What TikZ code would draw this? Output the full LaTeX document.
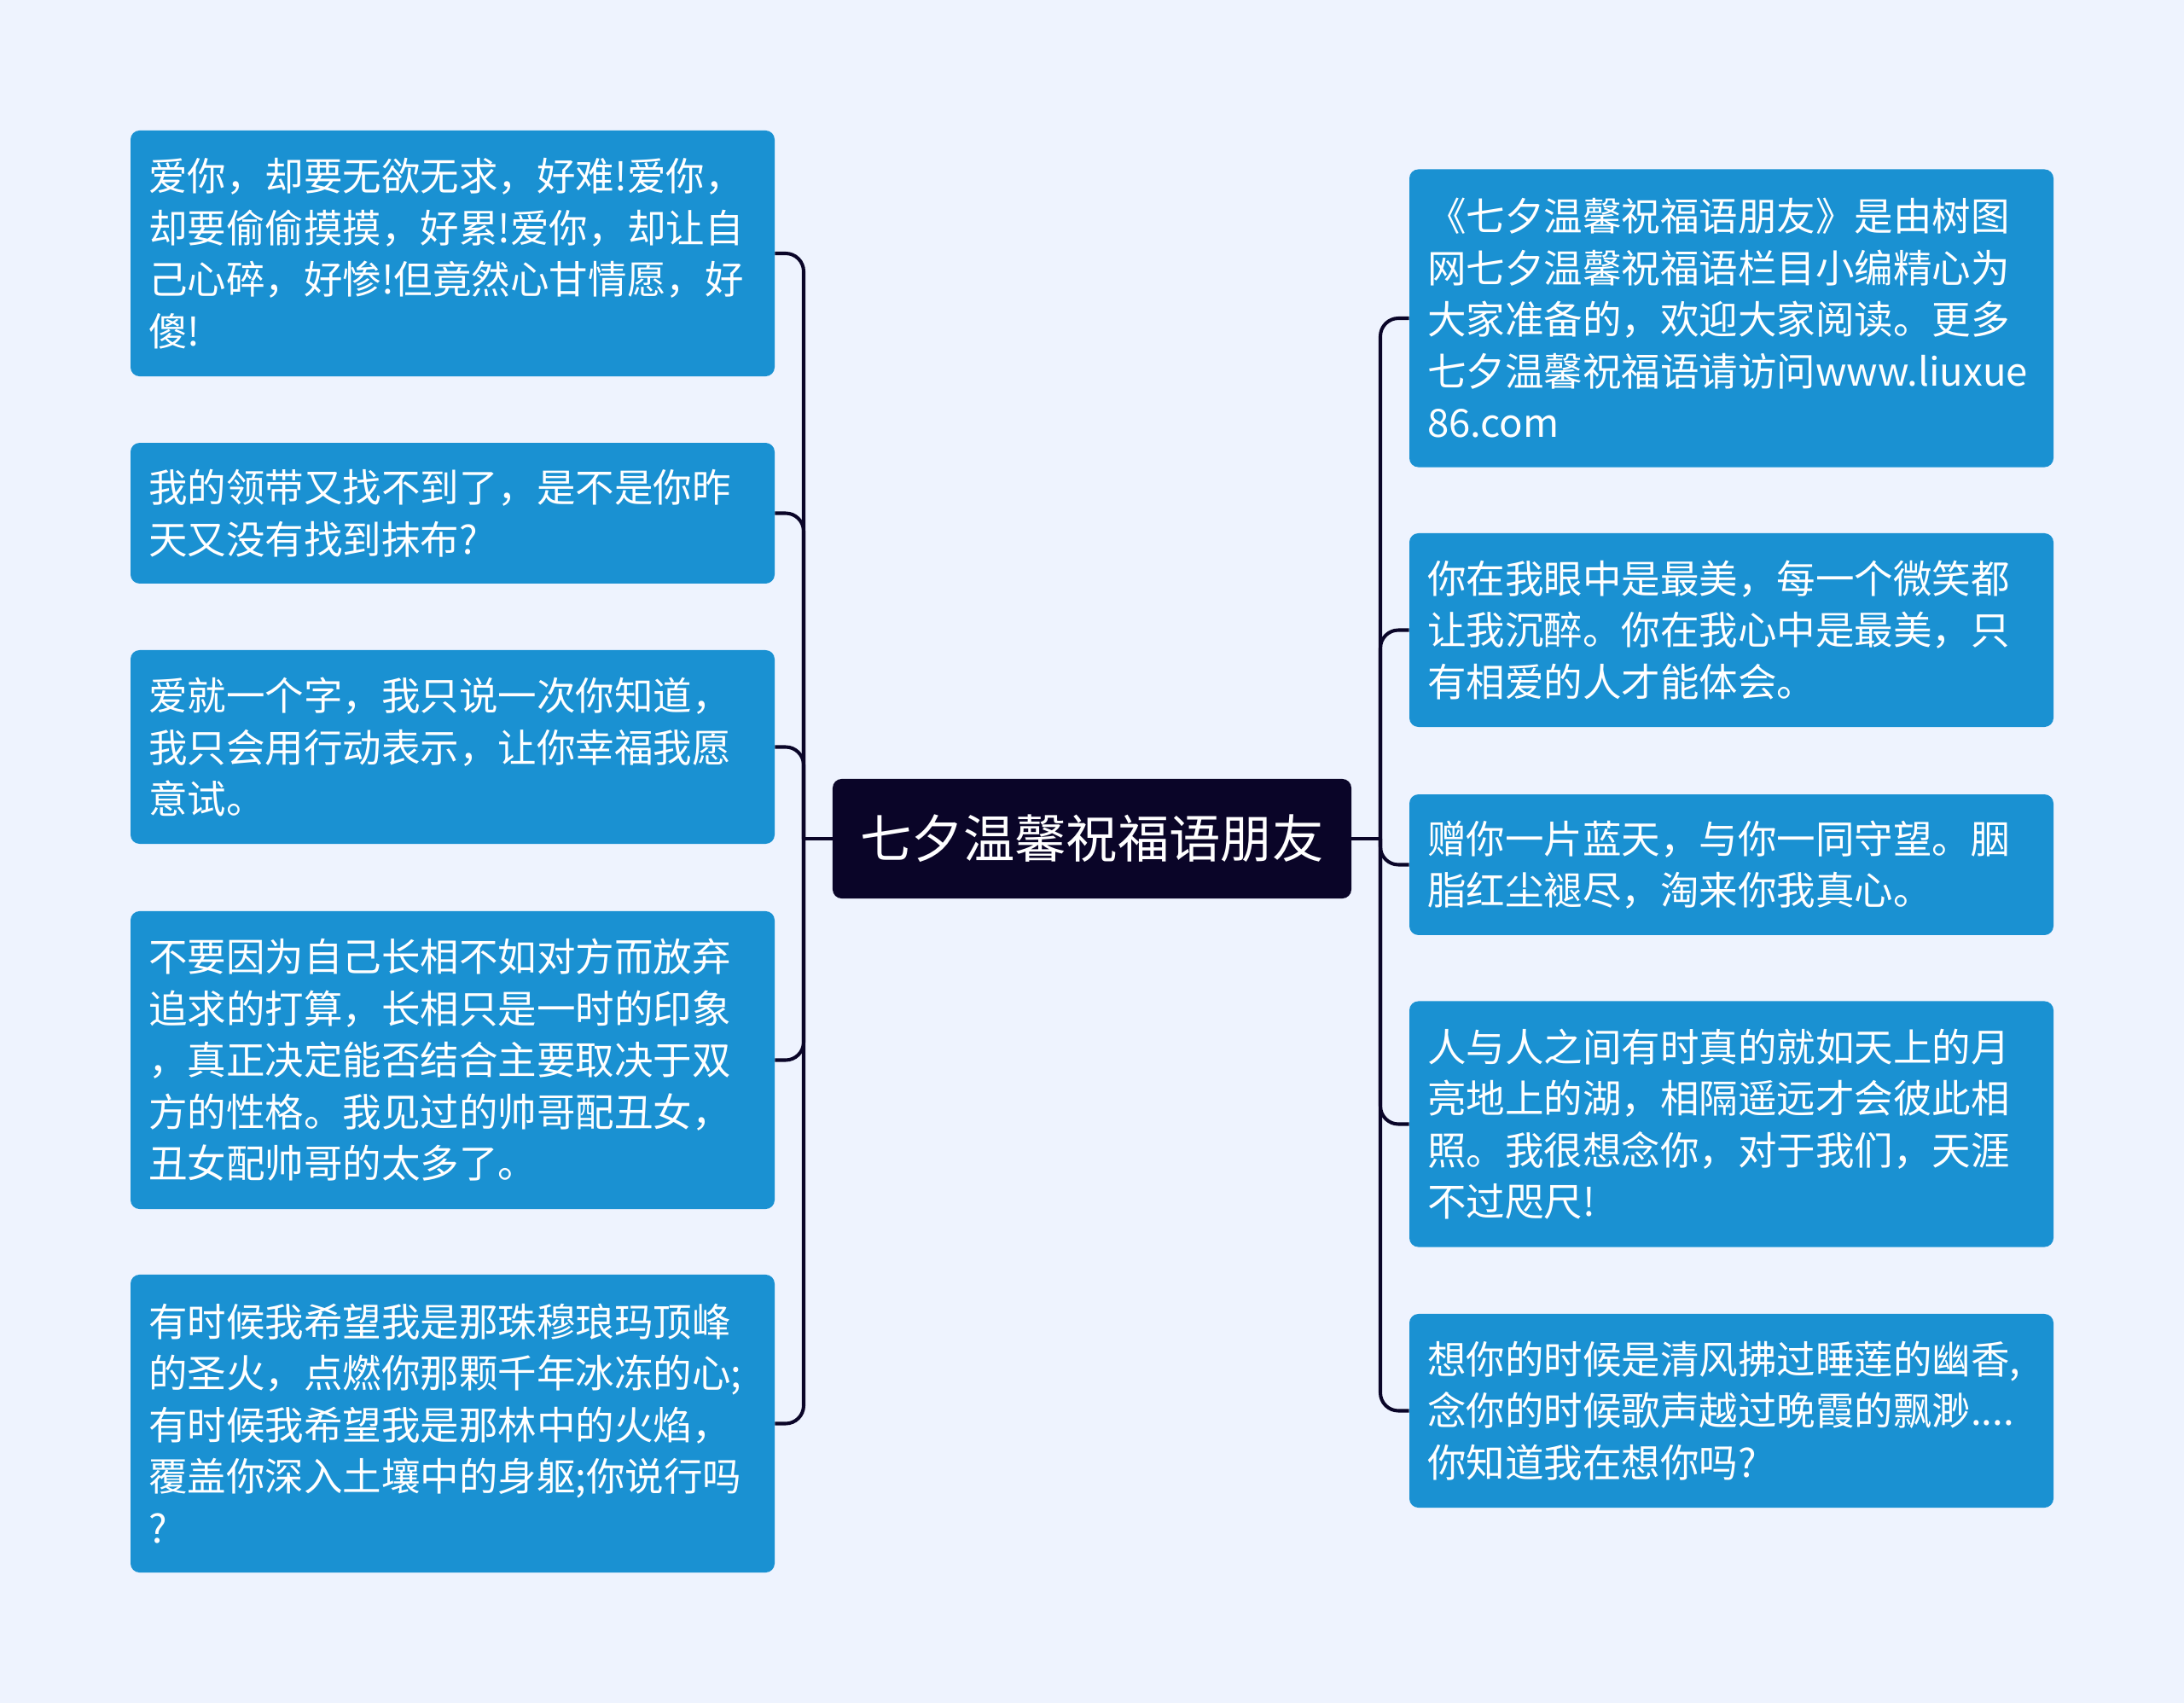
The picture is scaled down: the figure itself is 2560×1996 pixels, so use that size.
\documentclass[tikz,border=0pt]{standalone}
\usepackage{fontspec}
\setmainfont{Noto Sans CJK SC}
\definecolor{bg}{RGB}{238,243,254}
\definecolor{leaf}{RGB}{26,145,210}
\definecolor{rootc}{RGB}{10,5,40}
\begin{document}
\begin{tikzpicture}[x=0.5669pt,y=-0.5669pt,
  leafbox/.style={fill=leaf, rounded corners=6pt, text=white,
    font=\fontsize{25.8pt}{34.3pt}\selectfont, align=left,
    text width=404pt, inner xsep=12pt, inner ysep=0pt, anchor=center},
  rootbox/.style={fill=rootc, rounded corners=6pt, text=white,
    font=\fontsize{34.2pt}{40pt}\selectfont, minimum width=344.7pt,
    minimum height=79.4pt, inner sep=0pt, anchor=center},
  link/.style={draw=rootc, line width=2.3pt, rounded corners=12pt}]
\fill[bg] (0,0) rectangle (2560,1996);
\useasboundingbox (0,0) rectangle (2560,1996);

\node[rootbox] (root) at (1280,983) {七夕温馨祝福语朋友};

\node[leafbox, minimum height=163.3pt] (l1) at (530.5,297)
  {爱你，却要无欲无求，好难!爱你，\\却要偷偷摸摸，好累!爱你，却让自\\己心碎，好惨!但竟然心甘情愿，好\\傻!};
\node[leafbox, minimum height=93.5pt] (l2) at (530.5,601.5)
  {我的领带又找不到了，是不是你昨\\天又没有找到抹布?};
\node[leafbox, minimum height=128.7pt] (l3) at (530.5,875.5)
  {爱就一个字，我只说一次你知道，\\我只会用行动表示，让你幸福我愿\\意试。};
\node[leafbox, minimum height=197.9pt] (l4) at (530.5,1242.5)
  {不要因为自己长相不如对方而放弃\\追求的打算，长相只是一时的印象\\，真正决定能否结合主要取决于双\\方的性格。我见过的帅哥配丑女，\\丑女配帅哥的太多了。};
\node[leafbox, minimum height=197.9pt] (l5) at (530.5,1668.5)
  {有时候我希望我是那珠穆琅玛顶峰\\的圣火，点燃你那颗千年冰冻的心;\\有时候我希望我是那林中的火焰，\\覆盖你深入土壤中的身躯;你说行吗\\?};

\node[leafbox, minimum height=197.9pt] (r1) at (2029.5,373)
  {《七夕温馨祝福语朋友》是由树图\\网七夕温馨祝福语栏目小编精心为\\大家准备的，欢迎大家阅读。更多\\七夕温馨祝福语请访问www.liuxue\\86.com};
\node[leafbox, minimum height=128.7pt] (r2) at (2029.5,738.5)
  {你在我眼中是最美，每一个微笑都\\让我沉醉。你在我心中是最美，只\\有相爱的人才能体会。};
\node[leafbox, minimum height=93.5pt] (r3) at (2029.5,1013.5)
  {赠你一片蓝天，与你一同守望。胭\\脂红尘褪尽，淘来你我真心。};
\node[leafbox, minimum height=163.3pt] (r4) at (2029.5,1317.5)
  {人与人之间有时真的就如天上的月\\亮地上的湖，相隔遥远才会彼此相\\照。我很想念你，对于我们，天涯\\不过咫尺!};
\node[leafbox, minimum height=128.7pt] (r5) at (2029.5,1653.5)
  {想你的时候是清风拂过睡莲的幽香,\\念你的时候歌声越过晚霞的飘渺....\\你知道我在想你吗?};

\coordinate (jl) at (942,983);
\coordinate (jr) at (1618,983);
\draw[link] (root.west) -- (jl);
\draw[link] (root.east) -- (jr);
\foreach \n in {l1,l2,l3,l4,l5} { \draw[link] (jl) |- (\n.east); }
\foreach \n in {r1,r2,r3,r4,r5} { \draw[link] (jr) |- (\n.west); }
\end{tikzpicture}
\end{document}
